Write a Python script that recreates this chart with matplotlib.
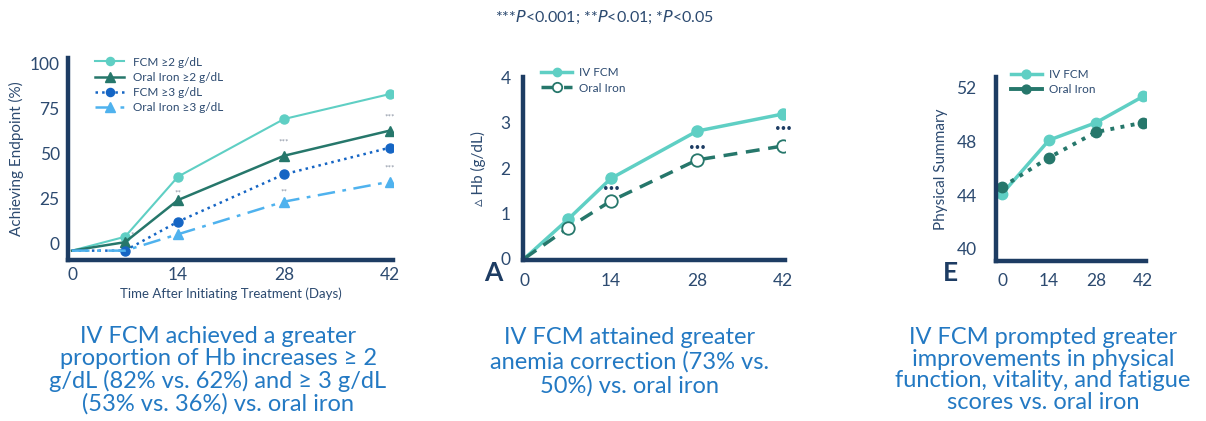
import matplotlib
matplotlib.use("Agg")
import matplotlib.pyplot as plt

plt.rcParams['font.family'] = ['Lato', 'DejaVu Sans']

W, H = 1206, 421
NAVY = '#1d3c63'
TICK = '#2c4a70'
CAP = '#2379c3'
TEAL = '#5fcfc4'
DTEAL = '#26776b'
BLUE = '#1565c4'
LBLUE = '#4fb2ee'
GRAY = '#8a93a3'

# Panel 1 data
days1 = [0, 7, 14, 28, 42]
fcm2 = [-3.7, 4, 37.4, 69.4, 83.3]
oral2 = [-3.7, 1, 24.4, 49, 63]
fcm3 = [-3.7, -3.7, 12.4, 38.7, 53.5]
oral3 = [-3.7, -3.7, 5.4, 23.5, 34.6]
sig1_x = [7.9, 14, 28, 28, 42, 42]
sig1_y = [5, 28.3, 56.7, 28.9, 70.6, 42.2]
sig1_t = ['*', '**', '***', '**', '***', '***']

# Panel 2 data
days2 = [0, 7, 14, 28, 42]
hb_fcm = [0, 0.86, 1.77, 2.82, 3.2]
hb_oral = [0, 0.67, 1.27, 2.18, 2.49]
sig2_x = [14, 28, 42]
sig2_y = [1.55, 2.45, 2.88]

# Panel 3 data
days3 = [0, 14, 28, 42]
ps_fcm = [44.1, 48.1, 49.4, 51.35]
ps_oral = [44.6, 46.8, 48.7, 49.4]

captions = [
    "IV FCM achieved a greater\nproportion of Hb increases \u2265 2\ng/dL (82% vs. 62%) and \u2265 3 g/dL\n(53% vs. 36%) vs. oral iron",
    "IV FCM attained greater\nanemia correction (73% vs.\n50%) vs. oral iron",
    "IV FCM prompted greater\nimprovements in physical\nfunction, vitality, and fatigue\nscores vs. oral iron",
]

fig = plt.figure(figsize=(W / 100, H / 100), dpi=100)


def ax_px(l, t, r, b):
    return fig.add_axes([l / W, 1 - b / H, (r - l) / W, (b - t) / H])


def style(ax):
    for s in ['top', 'right']:
        ax.spines[s].set_visible(False)
    for s in ['left', 'bottom']:
        ax.spines[s].set_color(NAVY)
        ax.spines[s].set_linewidth(3.2)
    ax.tick_params(length=0, colors=TICK, labelsize=12.5)
    ax.set_facecolor('none')


# ---------- Panel 1 ----------
ax1 = ax_px(68, 58, 393, 260)
style(ax1)
ax1.plot(days1, fcm2, '-o', color=TEAL, lw=1.5, ms=6.5, markevery=[1, 2, 3, 4],
         label='FCM \u22652 g/dL')
ax1.plot(days1, oral2, '-^', color=DTEAL, lw=1.8, ms=7.5, markevery=[1, 2, 3, 4],
         label='Oral Iron \u22652 g/dL')
ax1.plot(days1, fcm3, ':o', color=BLUE, lw=1.8, ms=6.5, markevery=[1, 2, 3, 4],
         label='FCM \u22653 g/dL')
ax1.plot(days1, oral3, '-.^', color=LBLUE, lw=1.8, ms=7.5, markevery=[2, 3, 4],
         label='Oral Iron \u22653 g/dL', dashes=(7, 3, 1.5, 3))
ax1.set_xlim(-0.53, 42.4)
ax1.set_ylim(-8.9, 103.3)
ax1.set_xticks([0, 14, 28, 42])
ax1.set_yticks([0, 25, 50, 75, 100])
ax1.tick_params(axis='y', pad=6)
ax1.tick_params(axis='x', pad=5)
ax1.set_ylabel('Achieving Endpoint (%)', color=TICK, fontsize=11, labelpad=4)
ax1.set_xlabel('Time After Initiating Treatment (Days)', color=TICK, fontsize=9.5, labelpad=3)
for x, y, t in zip(sig1_x, sig1_y, sig1_t):
    ax1.text(x, y, t, color=GRAY, fontsize=6, ha='center', va='center')
leg = ax1.legend(loc='upper left', bbox_to_anchor=(0.05, 1.06), frameon=False,
                 fontsize=8.5, handlelength=2.5, labelspacing=0.35, handletextpad=0.7,
                 markerscale=0.9)
for t in leg.get_texts():
    t.set_color(TICK)

# ---------- Panel 2 ----------
ax2 = ax_px(523, 77, 785, 260)
style(ax2)
ax2.plot(days2, hb_fcm, '-o', color=TEAL, lw=2.5, ms=8, markevery=[1, 2, 3, 4],
         label='IV FCM')
ax2.plot(days2, hb_oral, '--o', color=DTEAL, lw=2.5, ms=9, mfc='white', mec=DTEAL,
         mew=1.3, markevery=[1, 2, 3, 4], label='Oral Iron', dashes=(4, 2.5))
ax2.set_xlim(-0.3, 42.3)
ax2.set_ylim(-0.04, 4.02)
ax2.set_xticks([0, 14, 28, 42])
ax2.set_yticks([0, 1, 2, 3, 4])
ax2.tick_params(axis='y', pad=9)
ax2.tick_params(axis='x', pad=9)
ax2.set_ylabel('\u25b5 Hb (g/dL)', color=TICK, fontsize=11, labelpad=10)
for x, y in zip(sig2_x, sig2_y):
    ax2.text(x, y, '\u2022\u2022\u2022', color=NAVY, fontsize=7, ha='center', va='center')
leg2 = ax2.legend(loc='upper left', bbox_to_anchor=(0.03, 1.11), frameon=False,
                  fontsize=8.5, handlelength=2.6, labelspacing=0.35, handletextpad=0.6,
                  markerscale=0.75)
for t in leg2.get_texts():
    t.set_color(TICK)
fig.text(493 / W, 1 - 273 / H, 'A', color=NAVY, fontsize=19, fontweight='bold',
         ha='center', va='center')

# ---------- Panel 3 ----------
ax3 = ax_px(996, 77, 1146, 261)
style(ax3)
ax3.plot(days3, ps_fcm, '-o', color=TEAL, lw=2.5, ms=7.5, label='IV FCM')
ax3.plot(days3, ps_oral, ':o', color=DTEAL, lw=2.8, ms=7.5, label='Oral Iron')
ax3.set_xlim(-1.8, 42.9)
ax3.set_ylim(39.1, 52.8)
ax3.set_xticks([0, 14, 28, 42])
ax3.set_yticks([40, 44, 48, 52])
ax3.tick_params(axis='y', pad=14)
ax3.tick_params(axis='x', pad=9)
ax3.set_ylabel('Physical Summary', color=TICK, fontsize=11, labelpad=6)
leg3 = ax3.legend(loc='upper left', bbox_to_anchor=(0.03, 1.1), frameon=False,
                  fontsize=8.5, handlelength=2.6, labelspacing=0.35, handletextpad=0.6,
                  markerscale=0.85)
leg3.get_lines()[1].set_linestyle('-')
for t in leg3.get_texts():
    t.set_color(TICK)
fig.text(950 / W, 1 - 273 / H, 'E', color=NAVY, fontsize=19, fontweight='bold',
         ha='center', va='center')

# ---------- Captions ----------
cap_pos = [(218, 370), (630, 362), (1043, 370)]
cap_ls = [1.05, 1.15, 1.05]
for (cx, cy), txt, ls in zip(cap_pos, captions, cap_ls):
    fig.text(cx / W, 1 - cy / H, txt, color=CAP, fontsize=17, ha='center', va='center',
             linespacing=ls)

# ---------- Header ----------
fig.text(605 / W, 1 - 17 / H,
         r'***$\it{P}$<0.001; **$\it{P}$<0.01; *$\it{P}$<0.05',
         color=TICK, fontsize=11.5, ha='center', va='center')

fig.savefig('out.png', dpi=100)
